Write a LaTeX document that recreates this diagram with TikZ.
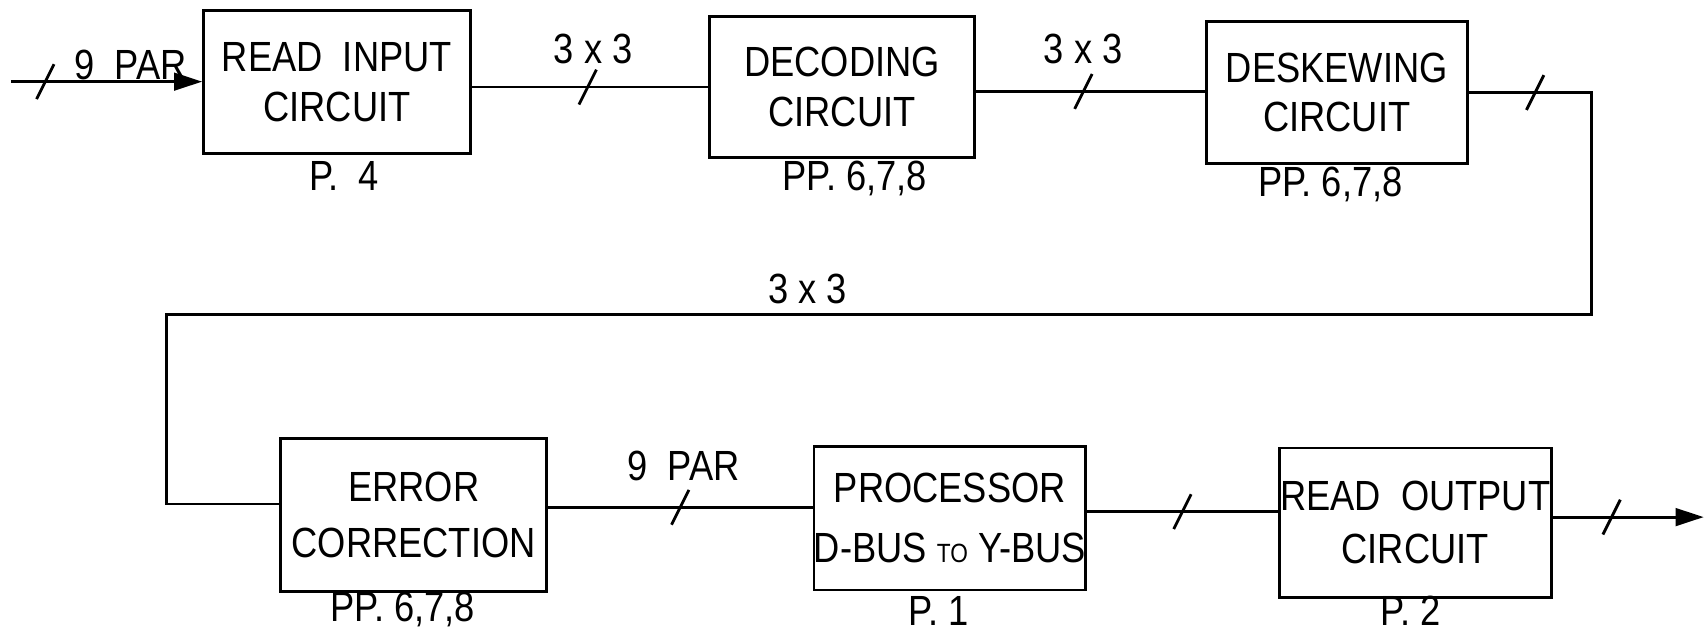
\documentclass[tikz,border=0pt]{standalone}
\usepackage{fontspec}
\setmainfont{Liberation Sans}[FakeStretch=0.86]
\usetikzlibrary{arrows.meta}
\begin{document}
\begin{tikzpicture}[x=0.010887cm, y=-0.010887cm,
  blk/.style={draw, line width=0.8pt, inner sep=0pt, align=center,
    font=\fontsize{12}{14}\selectfont},
  lbl/.style={inner sep=0pt, font=\fontsize{12}{13}\selectfont},
  wire/.style={line width=0.8pt},
  tip/.style={-{Triangle[length=8pt,width=5pt]}},
  bus/.pic={\draw[-, line width=0.8pt] (-8,16) -- (8,-16);}
]
\useasboundingbox (0,0) rectangle (1568,581);

% blocks
\node[blk, minimum width=245*0.010887cm, minimum height=131*0.010887cm] (b1) at (309.5,75.5) {READ\ \ INPUT\\CIRCUIT};
\node[blk, minimum width=243*0.010887cm, minimum height=130*0.010887cm] (b2) at (773.5,80) {DECODING\\CIRCUIT};
\node[blk, minimum width=240*0.010887cm, minimum height=130*0.010887cm] (b3) at (1228,85) {DESKEWING\\CIRCUIT};
\node[blk, minimum width=244*0.010887cm, minimum height=140*0.010887cm, font=\fontsize{12}{16}\selectfont] (b4) at (380,473) {ERROR\\CORRECTION};
\node[blk, minimum width=245*0.010887cm, minimum height=132*0.010887cm, font=\fontsize{12}{17}\selectfont] (b5) at (872.5,476) {PROCESSOR\\D-BUS {\fontsize{7.5}{8}\selectfont TO} Y-BUS};
\node[blk, minimum width=250*0.010887cm, minimum height=137*0.010887cm, font=\fontsize{12}{15}\selectfont] (b6) at (1300,480) {READ\ \ OUTPUT\\CIRCUIT};

% page references
\node[lbl] (p1) at (316,162) {P.\ \ 4};
\node[lbl] (p2) at (785,164) {PP.\ 6,7,8};
\node[lbl] (p3) at (1222,169) {PP.\ 6,7,8};
\node[lbl] (p4) at (370,560) {PP.\ 6,7,8};
\node[lbl] (p5) at (862,561) {P.\ 1};
\node[lbl] (p6) at (1296,561) {P.\ 2};

% bus labels
\node[lbl] (l0) at (120,60) {9\ \ PAR};
\node[lbl] (l1) at (545,45) {3 x 3};
\node[lbl] (l2) at (995,45) {3 x 3};
\node[lbl] (l3) at (742,265) {3 x 3};
\node[lbl] (l4) at (628,428) {9\ \ PAR};

% helper coordinates
\coordinate (in) at (10,75);
\coordinate (j12) at (0,80);
\coordinate (j23) at (0,84);
\coordinate (r1) at (1462,85);
\coordinate (r2) at (1462,289);
\coordinate (q1) at (153,289);
\coordinate (q2) at (153,463);
\coordinate (j45) at (0,466);
\coordinate (j56) at (0,470);
\coordinate (out) at (1565,475);

% connectors
\draw[wire, tip] (in) -- pic[pos=0.18]{bus} (b1.west |- in);
\draw[wire] (b1.east |- j12) -- pic[pos=0.49]{bus} (b2.west |- j12);
\draw[wire] (b2.east |- j23) -- pic[pos=0.47]{bus} (b3.west |- j23);
\draw[wire] (b3.east) -- pic[pos=0.54]{bus} (r1) -- (r2) -- (q1) -- (q2) -- (b4.west |- q2);
\draw[wire] (b4.east |- j45) -- pic[pos=0.5]{bus} (b5.west |- j45);
\draw[wire] (b5.east |- j56) -- pic[pos=0.5]{bus} (b6.west |- j56);
\draw[wire, tip] (b6.east |- out) -- pic[pos=0.39]{bus} (out);
\end{tikzpicture}
\end{document}
